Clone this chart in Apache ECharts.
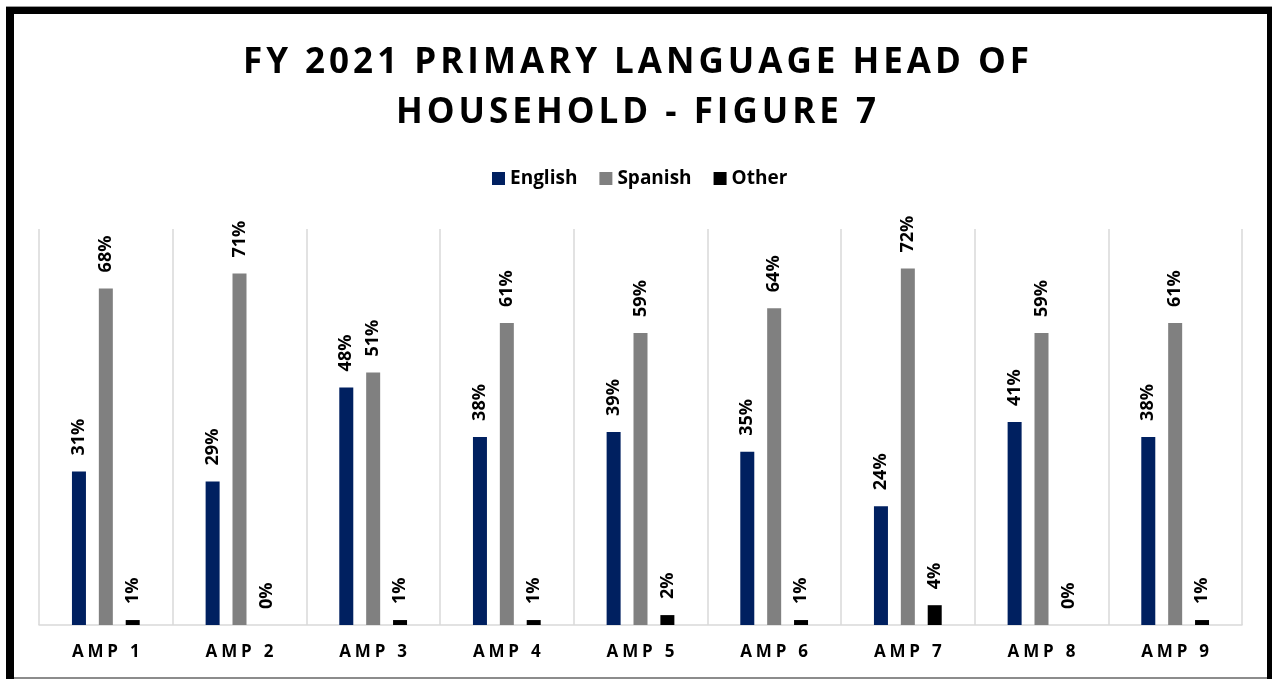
<!DOCTYPE html>
<html>
<head>
<meta charset="utf-8">
<script src="https://cdn.jsdelivr.net/npm/echarts@6/dist/echarts.min.js"></script>
<style>
  html, body { margin: 0; padding: 0; background: #ffffff; }
  #chart { width: 1272px; height: 679px; }
</style>
</head>
<body>
<div id="chart"></div>
<script>
// Share of households by primary language of the head of household (percent)
const categories = ['AMP 1', 'AMP 2', 'AMP 3', 'AMP 4', 'AMP 5', 'AMP 6', 'AMP 7', 'AMP 8', 'AMP 9'];
const english = [31, 29, 48, 38, 39, 35, 24, 41, 38];
const spanish = [68, 71, 51, 61, 59, 64, 72, 59, 61];
const other   = [1, 0, 1, 1, 2, 1, 4, 0, 1];
const titleLines = ['FY 2021 PRIMARY LANGUAGE HEAD OF', 'HOUSEHOLD - FIGURE 7'];

const FONT = '"Open Sans", "Liberation Sans", sans-serif';

// Split a string into one rich-text run per character so each run can carry
// side padding, which gives the text an even letter spacing.
function spaced(text, style) {
  return text.split('').map(ch => '{' + style + '|' + ch + '}').join('');
}

const chart = echarts.init(document.getElementById('chart'), null, { renderer: 'canvas' });

const barLabel = {
  show: true,
  position: 'top',
  rotate: 90,
  align: 'left',
  verticalAlign: 'middle',
  distance: 16,
  formatter: '{c}%',
  color: '#000000',
  fontFamily: FONT,
  fontWeight: 'bold',
  fontSize: 18
};

function barSeries(name, values, color) {
  return {
    name: name,
    type: 'bar',
    data: values,
    barWidth: 14,
    barGap: '92%',
    itemStyle: { color: color },
    label: barLabel
  };
}

chart.setOption({
  animation: false,
  backgroundColor: '#ffffff',
  title: {
    left: 'center',
    top: 33,
    text: titleLines.map(l => spaced(l, 't')).join('\n'),
    textStyle: {
      rich: {
        t: {
          fontFamily: FONT,
          fontWeight: 'bold',
          fontSize: 35,
          lineHeight: 50,
          color: '#000000',
          padding: [0, 2, 0, 2]
        }
      }
    }
  },
  legend: {
    top: 164,
    left: 487,
    icon: 'rect',
    itemWidth: 13,
    itemHeight: 13,
    itemGap: 22,
    textStyle: {
      fontFamily: FONT,
      fontWeight: 'bold',
      fontSize: 19,
      color: '#000000'
    },
    data: ['English', 'Spanish', 'Other']
  },
  grid: {
    left: 39,
    right: 30,
    top: 229,
    bottom: 54,
    containLabel: false
  },
  xAxis: {
    type: 'category',
    data: categories,
    axisTick: { show: false },
    axisLine: { show: true, lineStyle: { color: '#d9d9d9', width: 1.5 } },
    splitLine: { show: true, interval: 0, lineStyle: { color: '#d9d9d9', width: 1.5 } },
    axisLabel: {
      interval: 0,
      margin: 19,
      formatter: v => spaced(v, 'c'),
      rich: {
        c: {
          fontFamily: FONT,
          fontWeight: 'bold',
          fontSize: 17,
          color: '#000000',
          padding: [0, 1.9, 0, 1.9]
        }
      }
    }
  },
  yAxis: {
    type: 'value',
    min: 0,
    max: 80,
    show: false,
    splitLine: { show: false }
  },
  series: [
    barSeries('English', english, '#002060'),
    barSeries('Spanish', spanish, '#808080'),
    barSeries('Other', other, '#000000')
  ],
  graphic: [
    // frame around the chart: heavy black on left, top and right, thin grey at the bottom
    { type: 'rect', shape: { x: 6, y: 7, width: 8, height: 672 }, style: { fill: '#000000' } },
    { type: 'rect', shape: { x: 6, y: 7, width: 1266, height: 7 }, style: { fill: '#000000' } },
    { type: 'rect', shape: { x: 1267, y: 7, width: 5, height: 672 }, style: { fill: '#000000' } },
    { type: 'rect', shape: { x: 6, y: 6, width: 1266, height: 1 }, style: { fill: '#9a9a9a' } },
    { type: 'rect', shape: { x: 14, y: 677, width: 1253, height: 2 }, style: { fill: '#8c8c8c' } }
  ]
});
</script>
</body>
</html>
